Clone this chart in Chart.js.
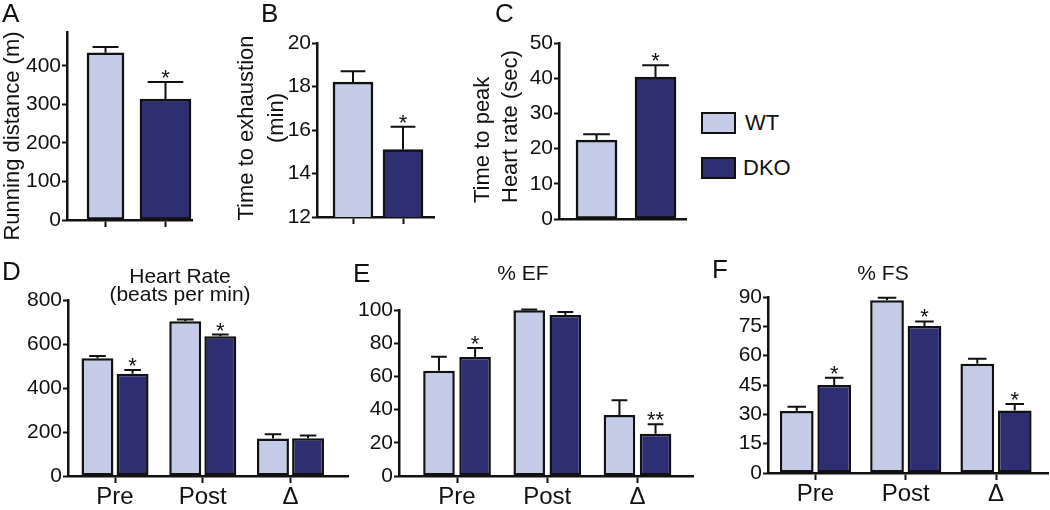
<!DOCTYPE html>
<html>
<head>
<meta charset="utf-8">
<script src="https://cdn.jsdelivr.net/npm/chart.js"></script>
<style>
  body { margin: 0; background: #fff; }
  #fig { position: relative; width: 1050px; height: 510px; overflow: hidden; font-family: 'Liberation Sans', Arial, sans-serif; }
  #fig canvas { position: absolute; }
  .key { position: absolute; left: 701px; width: 35px; height: 22px; box-sizing: border-box; border: 2px solid #111; }
  .keytxt { position: absolute; font-size: 22px; line-height: 22px; color: #111; }
</style>
</head>
<body>
<div id="fig">
  <canvas id="cA"></canvas>
  <canvas id="cB"></canvas>
  <canvas id="cC"></canvas>
  <canvas id="cD"></canvas>
  <canvas id="cE"></canvas>
  <canvas id="cF"></canvas>
  <div class="key" style="top:112px;background:#c4cce8"></div>
  <div class="keytxt" style="left:745px;top:112px">WT</div>
  <div class="key" style="top:157px;background:#2e2f73"></div>
  <div class="keytxt" style="left:743px;top:157px">DKO</div>
</div>
<script>
// groups and phases
const groups = ['WT', 'DKO'];
const phases = ['Pre', 'Post', 'Δ'];

// A: running distance (m)
const runDist = [434, 314];
const runDistErr = [15, 44];
const runDistStars = ['', '*'];
const runDistTicks = [0, 100, 200, 300, 400];

// B: time to exhaustion (min)
const exhaust = [18.2, 15.1];
const exhaustErr = [0.5, 1.05];
const exhaustStars = ['', '*'];
const exhaustTicks = [12, 14, 16, 18, 20];

// C: time to peak heart rate (sec)
const peakTime = [22.4, 40.3];
const peakTimeErr = [1.7, 3.4];
const peakTimeStars = ['', '*'];
const peakTicks = [0, 10, 20, 30, 40, 50];

// D: heart rate (beats per min)
const hrWT = [535, 703, 170];
const hrWTErr = [11, 8, 20];
const hrDKO = [465, 635, 172];
const hrDKOErr = [17, 8, 12];
const hrDKOStars = ['*', '*', ''];
const hrTicks = [0, 200, 400, 600, 800];

// E: % EF
const efWT = [63.4, 99.8, 36.7];
const efWTErr = [8.5, 0.5, 8.9];
const efDKO = [71.7, 97, 25.5];
const efDKOErr = [5.4, 1.8, 5.6];
const efDKOStars = ['*', '', '**'];
const efTicks = [0, 20, 40, 60, 80, 100];

// F: % FS
const fsWT = [31.7, 88.4, 55.9];
const fsWTErr = [2.2, 1.2, 2.5];
const fsDKO = [45, 75.2, 32];
const fsDKOErr = [3.7, 2.3, 3.3];
const fsDKOStars = ['*', '*', '*'];
const fsTicks = [0, 15, 30, 45, 60, 75, 90];

const FONT = "'Liberation Sans', Arial, sans-serif";
const INK = '#111';
const WT_FILL = '#c4cce8';
const DKO_FILL = '#2e2f73';

Chart.defaults.font.family = FONT;
Chart.defaults.color = INK;

// error bars (upper only) and significance stars
const errorBars = {
  id: 'errorBars',
  afterDatasetsDraw(chart, args, opts) {
    const ctx = chart.ctx;
    const yScale = chart.scales.y;
    chart.data.datasets.forEach((ds, di) => {
      const meta = chart.getDatasetMeta(di);
      meta.data.forEach((bar, i) => {
        const top = yScale.getPixelForValue(ds.data[i].y + ds.errors[i]);
        const half = bar.width * opts.cap / 2;
        ctx.save();
        ctx.strokeStyle = INK;
        ctx.lineWidth = 2;
        ctx.beginPath();
        ctx.moveTo(bar.x, bar.y);
        ctx.lineTo(bar.x, top);
        ctx.moveTo(bar.x - half, top);
        ctx.lineTo(bar.x + half, top);
        ctx.stroke();
        const s = ds.stars && ds.stars[i];
        if (s) {
          ctx.fillStyle = INK;
          ctx.font = '22px ' + FONT;
          ctx.textAlign = 'center';
          ctx.textBaseline = 'alphabetic';
          ctx.fillText(s, bar.x, top + 3);
        }
        ctx.restore();
      });
    });
  }
};

// panel letters, titles, axis titles
const panelText = {
  id: 'panelText',
  afterDraw(chart, args, opts) {
    const ctx = chart.ctx;
    opts.items.forEach(t => {
      ctx.save();
      ctx.font = (t.size || 22) + 'px ' + FONT;
      ctx.fillStyle = INK;
      ctx.textAlign = t.align || 'center';
      ctx.textBaseline = t.base || 'alphabetic';
      ctx.translate(t.x - opts.ox, t.y - opts.oy);
      if (t.rot) ctx.rotate(-Math.PI / 2);
      ctx.fillText(t.text, 0, 0);
      ctx.restore();
    });
  }
};

function pts(vals, start) {
  return vals.map((v, i) => ({ x: start + i, y: v }));
}

function single(vals, errs, stars, widths) {
  return [0, 1].map(i => ({
    label: groups[i],
    data: [{ x: i, y: vals[i] }],
    errors: [errs[i]],
    stars: [stars[i]],
    backgroundColor: i ? DKO_FILL : WT_FILL,
    borderColor: INK,
    borderWidth: 2.5,
    borderSkipped: false,
    grouped: false,
    categoryPercentage: 1,
    barPercentage: 1,
    maxBarThickness: widths[i]
  }));
}

function paired(wt, wtErr, dko, dkoErr, dkoStars, catPct, barPct) {
  const base = {
    borderColor: INK, borderWidth: 2.5, borderSkipped: false,
    categoryPercentage: catPct, barPercentage: barPct
  };
  return [
    Object.assign({ label: groups[0], data: pts(wt, 0), errors: wtErr, backgroundColor: WT_FILL }, base),
    Object.assign({ label: groups[1], data: pts(dko, 0), errors: dkoErr, stars: dkoStars, backgroundColor: DKO_FILL }, base)
  ];
}

function makeChart(id, box, area, datasets, x, y, texts, cap) {
  const el = document.getElementById(id);
  el.width = box.w;
  el.height = box.h;
  el.style.left = box.x + 'px';
  el.style.top = box.y + 'px';
  return new Chart(el, {
    type: 'bar',
    data: { datasets },
    options: {
      responsive: false,
      animation: false,
      devicePixelRatio: 1,
      layout: { padding: { left: 0, top: area.t - box.y, right: box.x + box.w - area.r, bottom: 0 } },
      plugins: {
        legend: { display: false },
        tooltip: { enabled: false },
        errorBars: { cap },
        panelText: { ox: box.x, oy: box.y, items: texts }
      },
      scales: {
        x: {
          type: 'linear',
          min: x.min,
          max: x.max,
          offset: false,
          afterFit: s => { s.height = box.y + box.h - area.b; },
          afterBuildTicks: s => { s.ticks = x.ticks.map(v => ({ value: v })); },
          grid: { offset: false, drawOnChartArea: false, drawTicks: x.drawTicks, tickLength: 7, tickWidth: 2, tickColor: INK },
          border: { display: true, color: INK, width: 2.5 },
          ticks: {
            display: !!x.labels, autoSkip: false, maxRotation: 0, padding: 0, color: INK,
            font: { size: 24 },
            callback: v => (x.labels ? x.labels[v] : '')
          }
        },
        y: {
          min: y.min,
          max: y.max,
          beginAtZero: false,
          afterFit: s => { s.width = area.l - box.x; },
          afterBuildTicks: s => { s.ticks = y.ticks.map(v => ({ value: v })); },
          grid: { drawOnChartArea: false, tickLength: 5, tickWidth: 2, tickColor: INK },
          border: { display: true, color: INK, width: 2.5 },
          ticks: { autoSkip: false, padding: 1, color: INK, font: { size: 21 }, callback: v => v }
        }
      }
    },
    plugins: [errorBars, panelText]
  });
}

// A
makeChart('cA', { x: 0, y: 0, w: 232, h: 250 }, { l: 67, t: 32, r: 192, b: 220 },
  single(runDist, runDistErr, runDistStars, [37, 51]),
  { min: -0.642, max: 1.442, ticks: [0, 1], drawTicks: true, labels: null },
  { min: 0, max: 488, ticks: runDistTicks },
  [
    { text: 'A', x: 2, y: 22, size: 26, align: 'left' },
    { text: 'Running distance (m)', x: 13, y: 136, rot: true, base: 'middle' }
  ], 0.7);

// B
makeChart('cB', { x: 232, y: 0, w: 208, h: 250 }, { l: 317, t: 43, r: 434, b: 217 },
  single(exhaust, exhaustErr, exhaustStars, [40, 40]),
  { min: -0.72, max: 1.62, ticks: [0, 1], drawTicks: true, labels: null },
  { min: 12, max: 20, ticks: exhaustTicks },
  [
    { text: 'B', x: 261, y: 22, size: 26, align: 'left' },
    { text: 'Time to exhaustion', x: 247, y: 128, rot: true, base: 'middle' },
    { text: '(min)', x: 277, y: 118, rot: true, base: 'middle' }
  ], 0.62);

// C
makeChart('cC', { x: 440, y: 0, w: 255, h: 250 }, { l: 559, t: 43, r: 686, b: 219 },
  single(peakTime, peakTimeErr, peakTimeStars, [41, 41]),
  { min: -0.636, max: 1.517, ticks: [0, 1], drawTicks: false, labels: null },
  { min: 0, max: 50, ticks: peakTicks },
  [
    { text: 'C', x: 495, y: 22, size: 26, align: 'left' },
    { text: 'Time to peak', x: 483, y: 203, rot: true, base: 'middle', align: 'left' },
    { text: 'Heart rate (sec)', x: 511, y: 203, rot: true, base: 'middle', align: 'left' }
  ], 0.65);

// D
makeChart('cD', { x: 0, y: 250, w: 350, h: 260 }, { l: 68, t: 300, r: 348, b: 476 },
  paired(hrWT, hrWTErr, hrDKO, hrDKOErr, hrDKOStars, 0.8, 0.91),
  { min: -0.536, max: 2.655, ticks: [0, 1, 2], drawTicks: true, labels: phases },
  { min: 0, max: 800, ticks: hrTicks },
  [
    { text: 'D', x: 2, y: 280, size: 26, align: 'left' },
    { text: 'Heart Rate', x: 180, y: 283, size: 21 },
    { text: '(beats per min)', x: 180, y: 301, size: 21 }
  ], 0.52);

// E
makeChart('cE', { x: 350, y: 250, w: 350, h: 260 }, { l: 399, t: 310, r: 693, b: 476 },
  paired(efWT, efWTErr, efDKO, efDKOErr, efDKOStars, 0.8, 0.875),
  { min: -0.643, max: 2.615, ticks: [0, 1, 2], drawTicks: true, labels: phases },
  { min: 0, max: 100, ticks: efTicks },
  [
    { text: 'E', x: 353, y: 282, size: 26, align: 'left' },
    { text: '% EF', x: 523, y: 280, size: 21 }
  ], 0.5);

// F
makeChart('cF', { x: 700, y: 250, w: 350, h: 260 }, { l: 768, t: 297, r: 1048, b: 473 },
  paired(fsWT, fsWTErr, fsDKO, fsDKOErr, fsDKOStars, 0.83, 0.9),
  { min: -0.526, max: 2.576, ticks: [0, 1, 2], drawTicks: true, labels: phases },
  { min: 0, max: 90, ticks: fsTicks },
  [
    { text: 'F', x: 712, y: 278, size: 26, align: 'left' },
    { text: '% FS', x: 883, y: 280, size: 21 }
  ], 0.55);
</script>
</body>
</html>
